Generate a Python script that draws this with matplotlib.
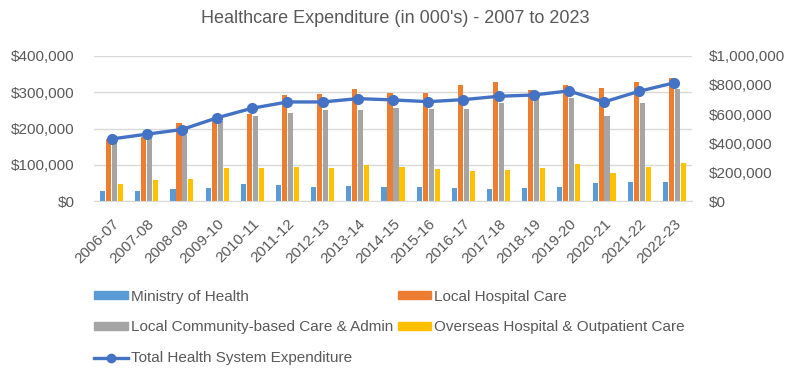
import numpy as np
import matplotlib
matplotlib.use("Agg")
import matplotlib.pyplot as plt
from matplotlib.ticker import FuncFormatter
from matplotlib.lines import Line2D
from matplotlib.patches import Patch

plt.rcParams['font.family'] = ['Liberation Sans', 'DejaVu Sans']

years = ['2006-07', '2007-08', '2008-09', '2009-10', '2010-11', '2011-12',
         '2012-13', '2013-14', '2014-15', '2015-16', '2016-17', '2017-18',
         '2018-19', '2019-20', '2020-21', '2021-22', '2022-23']

ministry = [27000, 29000, 32000, 36000, 46000, 44000, 40000, 42000, 40000,
            40000, 36000, 34000, 36000, 40000, 50000, 54000, 52000]
local_hospital = [172000, 178000, 215000, 222000, 241000, 292000, 295000, 309000, 299000,
                  299000, 321000, 327000, 305000, 320000, 313000, 327000, 339000]
community = [165000, 177000, 183000, 222000, 234000, 243000, 251000, 251000, 256000,
             254000, 255000, 269000, 290000, 284000, 235000, 269000, 308000]
overseas = [48000, 57000, 61000, 90000, 90000, 95000, 90000, 99000, 95000,
            88000, 84000, 86000, 92000, 102000, 77000, 94000, 104000]
total = [428000, 461000, 493000, 574000, 640000, 683000, 683000, 706000, 697000,
         685000, 699000, 722000, 731000, 759000, 683000, 757000, 815000]

TXT = '#595959'
c_blue, c_orange, c_gray, c_yellow, c_line = '#5B9BD5', '#ED7D31', '#A5A5A5', '#FFC000', '#4472C4'

fig = plt.figure(figsize=(8, 3.78), dpi=100)
ax = fig.add_axes([0.1175, 0.468, 0.7475, 0.384])

x = np.arange(len(years))
w = 0.145
step = 0.17
ax.bar(x - 1.5 * step, ministry, w, color=c_blue, zorder=2)
ax.bar(x - 0.5 * step, local_hospital, w, color=c_orange, zorder=2)
ax.bar(x + 0.5 * step, community, w, color=c_gray, zorder=2)
ax.bar(x + 1.5 * step, overseas, w, color=c_yellow, zorder=2)

ax.set_xlim(-0.5, len(years) - 0.5)
ax.set_ylim(0, 400000)
ax.set_yticks([0, 100000, 200000, 300000, 400000])
money = FuncFormatter(lambda v, p: '${:,.0f}'.format(v))
ax.yaxis.set_major_formatter(money)
ax.grid(axis='y', color='#D9D9D9', linewidth=1, zorder=0)
ax.set_axisbelow(True)
for s in ['top', 'left', 'right']:
    ax.spines[s].set_visible(False)
ax.spines['bottom'].set_color('#D9D9D9')
ax.tick_params(length=0, colors=TXT, labelsize=11)
ax.tick_params(axis='y', pad=14)
ax.set_xticks(x)
ax.set_xticklabels(years, rotation=45, ha='right', rotation_mode='anchor')
ax.tick_params(axis='x', pad=11)

ax2 = ax.twinx()
ax2.plot(x, total, color=c_line, linewidth=2.4, marker='o', markersize=7, zorder=3)
ax2.set_ylim(0, 1000000)
ax2.set_yticks(np.arange(0, 1000001, 200000))
ax2.yaxis.set_major_formatter(money)
for s in ['top', 'left', 'right', 'bottom']:
    ax2.spines[s].set_visible(False)
ax2.tick_params(length=0, colors=TXT, labelsize=11, pad=12)

fig.text(0.494, 0.950, "Healthcare Expenditure (in 000's) - 2007 to 2023",
         ha='center', va='center', color=TXT, fontsize=13)

handles = [Patch(color=c_blue), Patch(color=c_gray),
           Line2D([0], [0], color=c_line, linewidth=2.4, marker='o', markersize=6),
           Patch(color=c_orange), Patch(color=c_yellow)]
labels = ['Ministry of Health', 'Local Community-based Care & Admin',
          'Total Health System Expenditure', 'Local Hospital Care',
          'Overseas Hospital & Outpatient Care']
fig.legend(handles, labels, ncol=2, loc='upper left', bbox_to_anchor=(0.11, 0.25),
           frameon=False, fontsize=11, labelcolor=TXT, handlelength=2.2, handleheight=0.4,
           handletextpad=0.2, columnspacing=0.3, labelspacing=1.1, borderaxespad=0)

fig.savefig('out.png', dpi=100, facecolor='white')
